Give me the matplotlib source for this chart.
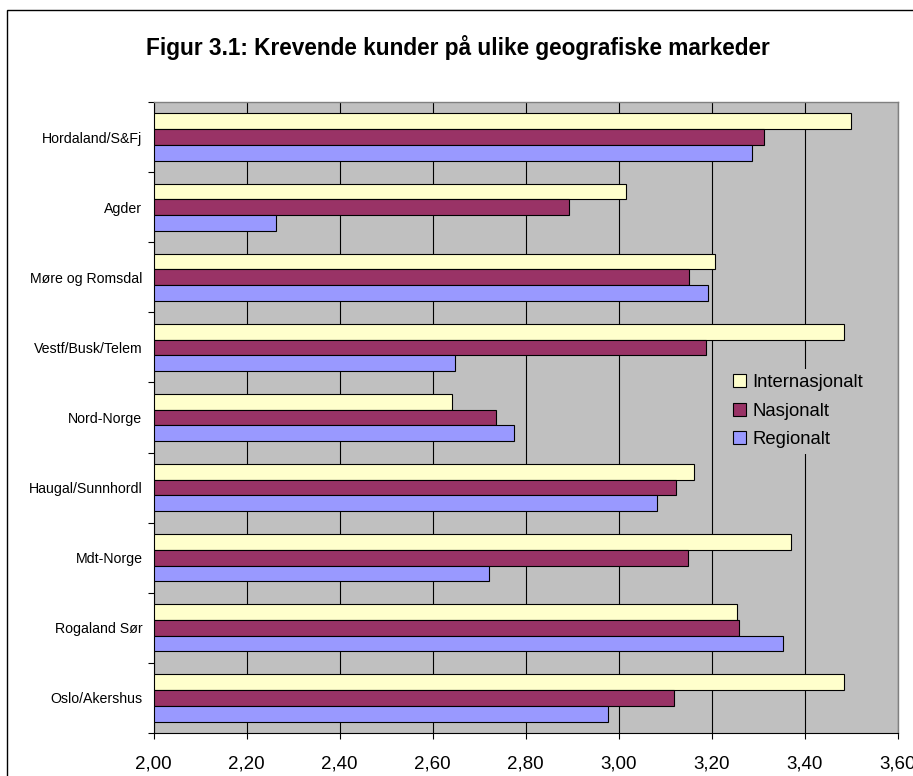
import matplotlib
matplotlib.use("Agg")
import matplotlib.pyplot as plt
from matplotlib.patches import Patch, Rectangle
import numpy as np

plt.rcParams['font.family'] = ['Liberation Sans', 'DejaVu Sans']

# categories listed top to bottom as in the chart
regions = ["Hordaland/S&Fj", "Agder", "Møre og Romsdal", "Vestf/Busk/Telem",
           "Nord-Norge", "Haugal/Sunnhordl", "Mdt-Norge", "Rogaland Sør",
           "Oslo/Akershus"]
internasjonalt = [3.500, 3.016, 3.206, 3.485, 2.641, 3.161, 3.369, 3.255, 3.485]
nasjonalt = [3.312, 2.892, 3.150, 3.188, 2.736, 3.122, 3.149, 3.259, 3.118]
regionalt = [3.287, 2.263, 3.191, 2.648, 2.774, 3.081, 2.720, 3.352, 2.976]
series_names = ["Internasjonalt", "Nasjonalt", "Regionalt"]
xticks = [2.0, 2.2, 2.4, 2.6, 2.8, 3.0, 3.2, 3.4, 3.6]

colors = ["#FFFFCC", "#993366", "#9999FF"]
base = 2.0

fig = plt.figure(figsize=(9.13, 7.76), dpi=100)
fig.patch.set_facecolor("white")

# outer chart frame (cut off at right and bottom)
fig.patches.append(Rectangle((7 / 913, -0.05), 1.1, 1 - 10 / 776 + 0.05,
                             transform=fig.transFigure, fill=False,
                             edgecolor="black", linewidth=1.0))

ax = fig.add_axes([153.5 / 913, 43 / 776, 744.5 / 913, 631 / 776])
ax.set_facecolor("#C0C0C0")

n = len(regions)
ypos = np.arange(n)[::-1]  # top category gets highest y
h = 0.225
for vals, off, col in zip([internasjonalt, nasjonalt, regionalt], [h, 0, -h], colors):
    v = np.array(vals)
    ax.barh(ypos + off, v - base, left=base, height=h, color=col,
            edgecolor="black", linewidth=0.8, zorder=3)

ax.set_xlim(2.0, 3.6)
ax.set_ylim(-0.5, n - 0.5)
ax.set_xticks(xticks)
ax.set_xticklabels([("%.2f" % t).replace(".", ",") for t in xticks], fontsize=13.5)
ax.xaxis.grid(True, color="black", linewidth=0.8, zorder=1)
ax.set_axisbelow(True)

ax.set_yticks(ypos)
ax.set_yticklabels(regions, fontsize=10.2)
ax.set_yticks(np.arange(n + 1) - 0.5, minor=True)
ax.tick_params(axis="y", which="major", length=0, pad=8)
ax.tick_params(axis="y", which="minor", length=4, width=0.8, direction="out")
ax.tick_params(axis="x", length=4, width=0.8, direction="out", pad=12)

for side in ["left", "bottom"]:
    ax.spines[side].set_color("black")
    ax.spines[side].set_linewidth(0.8)
for side in ["top", "right"]:
    ax.spines[side].set_color("#808080")
    ax.spines[side].set_linewidth(1.0)

handles = [Patch(facecolor=c, edgecolor="black", linewidth=0.8) for c in colors]
leg = ax.legend(handles, series_names, loc="upper left",
                bbox_to_anchor=(0.758, 0.592), fontsize=13.3, frameon=True,
                facecolor="#C0C0C0", edgecolor="none", framealpha=1,
                handlelength=0.7, handleheight=0.7, handletextpad=0.35,
                labelspacing=0.62, borderpad=0.3, fancybox=False)
leg.set_zorder(5)

fig.text(0.502, 1 - 48 / 776, "Figur 3.1: Krevende kunder på ulike geografiske markeder",
         ha="center", va="center", fontsize=16.3, fontweight="bold")

fig.savefig("out.png", dpi=100)
